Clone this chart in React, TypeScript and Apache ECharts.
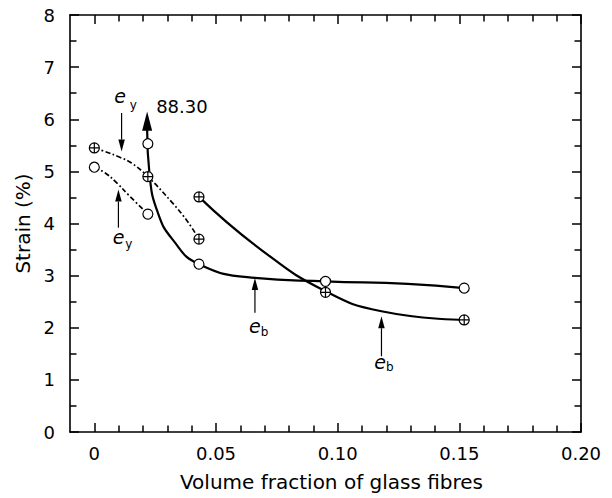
import React, { useEffect, useRef } from 'react';
import * as echarts from 'echarts';

const FONT = 'DejaVu Sans, Liberation Sans, Arial, sans-serif';

// Axis ticks
const xMajorTicks = [0, 0.05, 0.1, 0.15, 0.2];
const xMinorTicks = [0.01, 0.02, 0.03, 0.04, 0.06, 0.07, 0.08, 0.09, 0.11, 0.12, 0.13, 0.14, 0.16, 0.17, 0.18, 0.19];

// Measured points: open circles and crossed circles
const circlePoints = [[0, 5.08], [0.022, 4.18], [0.022, 5.53], [0.043, 3.22], [0.095, 2.89], [0.152, 2.76]];
const crossPoints = [[0, 5.45], [0.022, 4.9], [0.043, 3.7], [0.043, 4.51], [0.095, 2.68], [0.152, 2.15]];

// Fitted curves
const curveCircleYield = [[0, 5.08], [0.0045, 4.97], [0.0092, 4.78], [0.014, 4.55], [0.022, 4.18]];
const curveCrossYield = [[0, 5.45], [0.0045, 5.38], [0.0105, 5.27], [0.0153, 5.16], [0.022, 4.9], [0.0322, 4.39], [0.0383, 4.04], [0.043, 3.7]];
const curveCircleBreak = [[0.0217, 5.8], [0.0227, 4.935], [0.0261, 4.207], [0.0322, 3.69], [0.043, 3.22], [0.066, 2.956], [0.095, 2.89], [0.1288, 2.841], [0.152, 2.76]];
const curveCrossBreak = [[0.043, 4.51], [0.0687, 3.49], [0.095, 2.7], [0.118, 2.316], [0.152, 2.15]];

// Annotations (data coordinates)
const arrowHead88 = { x: 0.0217, tip: 6.15, base: 5.78 };
const annotArrows = [
  { x: 0.0112, from: 6.12, to: 5.38 },
  { x: 0.0099, from: 3.92, to: 4.65 },
  { x: 0.066, from: 2.29, to: 2.956 },
  { x: 0.118, from: 1.454, to: 2.22 },
];
const annotTexts = [
  { text: '88.30', x: 0.0254, y: 6.243, size: 18, italic: false, align: 'left' },
  { text: 'e', x: 0.01054, y: 6.439, size: 19, italic: true, align: 'center' },
  { text: 'y', x: 0.01598, y: 6.272, size: 12, italic: false, align: 'center' },
  { text: 'e', x: 0.01002, y: 3.743, size: 19, italic: true, align: 'center' },
  { text: 'y', x: 0.01419, y: 3.603, size: 12, italic: false, align: 'center' },
  { text: 'e', x: 0.066, y: 2.038, size: 19, italic: true, align: 'center' },
  { text: 'b', x: 0.07, y: 1.914, size: 12, italic: false, align: 'center' },
  { text: 'e', x: 0.1174, y: 1.349, size: 19, italic: true, align: 'center' },
  { text: 'b', x: 0.1214, y: 1.238, size: 12, italic: false, align: 'center' },
];

const crossSymbol = 'path://M0,5A5,5,0,1,1,10,5A5,5,0,1,1,0,5ZM5,0L5,10M0,5L10,5';

export default function App() {
  const ref = useRef<HTMLDivElement>(null);

  useEffect(() => {
    if (!ref.current) return;
    const chart = echarts.init(ref.current, null, { renderer: 'svg' });
    const axisLineStyle = { color: '#000', width: 1.6 };
    const baseX = { type: 'value', min: -0.01, max: 0.2, splitLine: { show: false }, gridIndex: 0 };
    const baseY = { type: 'value', min: 0, max: 8, interval: 1, splitLine: { show: false }, gridIndex: 0 };
    const dashDot = [5, 2.5, 1.8, 2.5];

    const option: any = {
      animation: false,
      backgroundColor: '#fff',
      grid: { left: 70, right: 31, top: 15, bottom: 66, containLabel: false },
      xAxis: [
        {
          ...baseX,
          position: 'bottom',
          axisLine: { show: true, onZero: false, lineStyle: axisLineStyle },
          axisTick: { show: true, inside: true, length: 9, customValues: xMajorTicks, lineStyle: { color: '#000', width: 1.5 } },
          axisLabel: {
            customValues: xMajorTicks,
            color: '#000',
            fontSize: 18,
            fontFamily: FONT,
            margin: 12,
            formatter: (v: number) => (v === 0 ? '0' : v.toFixed(2)),
          },
          name: 'Volume fraction of glass fibres',
          nameLocation: 'middle',
          nameGap: 40,
          nameTextStyle: { color: '#000', fontSize: 20, fontFamily: FONT, padding: [0, 0, 0, 12] },
        },
        {
          ...baseX,
          position: 'bottom',
          axisLine: { show: false, onZero: false },
          axisTick: { show: true, inside: true, length: 6.5, customValues: xMinorTicks, lineStyle: { color: '#000', width: 1.5 } },
          axisLabel: { show: false },
        },
        {
          ...baseX,
          position: 'top',
          axisLine: { show: true, onZero: false, lineStyle: axisLineStyle },
          axisTick: { show: true, inside: true, length: 9, customValues: xMajorTicks, lineStyle: { color: '#000', width: 1.5 } },
          axisLabel: { show: false },
        },
        {
          ...baseX,
          position: 'top',
          axisLine: { show: false, onZero: false },
          axisTick: { show: true, inside: true, length: 6.5, customValues: xMinorTicks, lineStyle: { color: '#000', width: 1.5 } },
          axisLabel: { show: false },
        },
      ],
      yAxis: [
        {
          ...baseY,
          position: 'left',
          axisLine: { show: true, onZero: false, lineStyle: axisLineStyle },
          axisTick: { show: true, inside: true, length: 9, lineStyle: { color: '#000', width: 1.5 } },
          minorTick: { show: true, splitNumber: 2, length: 6.5, lineStyle: { color: '#000', width: 1.5 } },
          axisLabel: { color: '#000', fontSize: 18, fontFamily: FONT, margin: 15 },
          name: 'Strain (%)',
          nameLocation: 'middle',
          nameGap: 36,
          nameTextStyle: { color: '#000', fontSize: 20, fontFamily: FONT },
        },
        {
          ...baseY,
          position: 'right',
          axisLine: { show: true, onZero: false, lineStyle: axisLineStyle },
          axisTick: { show: true, inside: true, length: 9, lineStyle: { color: '#000', width: 1.5 } },
          minorTick: { show: true, splitNumber: 2, length: 6.5, lineStyle: { color: '#000', width: 1.5 } },
          axisLabel: { show: false },
        },
      ],
      series: [
        {
          type: 'line', data: curveCircleYield, xAxisIndex: 0, yAxisIndex: 0, smooth: 0.4, symbol: 'none', z: 2,
          lineStyle: { color: '#000', width: 1.7, type: dashDot },
        },
        {
          type: 'line', data: curveCrossYield, xAxisIndex: 0, yAxisIndex: 0, smooth: 0.4, symbol: 'none', z: 2,
          lineStyle: { color: '#000', width: 1.7, type: dashDot },
        },
        {
          type: 'line', data: curveCircleBreak, xAxisIndex: 0, yAxisIndex: 0, smooth: 0.5, symbol: 'none', z: 2,
          lineStyle: { color: '#000', width: 2.2 },
        },
        {
          type: 'line', data: curveCrossBreak, xAxisIndex: 0, yAxisIndex: 0, smooth: 0.5, symbol: 'none', z: 2,
          lineStyle: { color: '#000', width: 2.2 },
        },
        {
          type: 'scatter', data: circlePoints, xAxisIndex: 0, yAxisIndex: 0, symbol: 'circle', symbolSize: 10, z: 5,
          itemStyle: { color: '#fff', borderColor: '#000', borderWidth: 1.2, opacity: 1 },
        },
        {
          type: 'scatter', data: crossPoints, xAxisIndex: 0, yAxisIndex: 0, symbol: crossSymbol, symbolSize: 10, z: 5,
          itemStyle: { color: '#fff', borderColor: '#000', borderWidth: 1.2, opacity: 1 },
        },
      ],
    };
    chart.setOption(option);

    const toPx = (x: number, y: number) => chart.convertToPixel({ gridIndex: 0 } as any, [x, y]) as number[];
    const graphics: any[] = [];

    // 88.30 arrowhead at the top of the break curve
    {
      const t = toPx(arrowHead88.x, arrowHead88.tip);
      const b = toPx(arrowHead88.x, arrowHead88.base);
      graphics.push({
        type: 'polygon', z: 10,
        shape: { points: [[t[0], t[1]], [b[0] - 5, b[1]], [b[0] + 5, b[1]]] },
        style: { fill: '#000' },
      });
    }

    annotArrows.forEach((a) => {
      const tail = toPx(a.x, a.from);
      const tip = toPx(a.x, a.to);
      const dir = tip[1] < tail[1] ? 1 : -1; // 1: pointing up
      const h = 12;
      const w = 6.5;
      const baseY = tip[1] + dir * h;
      graphics.push({
        type: 'polyline', z: 10,
        shape: { points: [[tail[0], tail[1]], [tip[0], baseY]] },
        style: { stroke: '#000', lineWidth: 1.2, fill: null },
      });
      graphics.push({
        type: 'polygon', z: 10,
        shape: { points: [[tip[0], tip[1]], [tip[0] - w / 2, baseY], [tip[0] + w / 2, baseY]] },
        style: { fill: '#000' },
      });
    });

    annotTexts.forEach((t) => {
      const p = toPx(t.x, t.y);
      graphics.push({
        type: 'text', z: 10, x: p[0], y: p[1],
        style: {
          text: t.text,
          fontSize: t.size,
          fontFamily: FONT,
          fontStyle: t.italic ? 'italic' : 'normal',
          fill: '#000',
          align: t.align,
          verticalAlign: 'middle',
          textAlign: t.align,
          textVerticalAlign: 'middle',
        },
      });
    });

    chart.setOption({ graphic: graphics });

    return () => chart.dispose();
  }, []);

  return (
    <div
      ref={ref}
      style={{ position: 'fixed', left: 0, top: 0, width: 612, height: 498, background: '#fff' }}
    />
  );
}
